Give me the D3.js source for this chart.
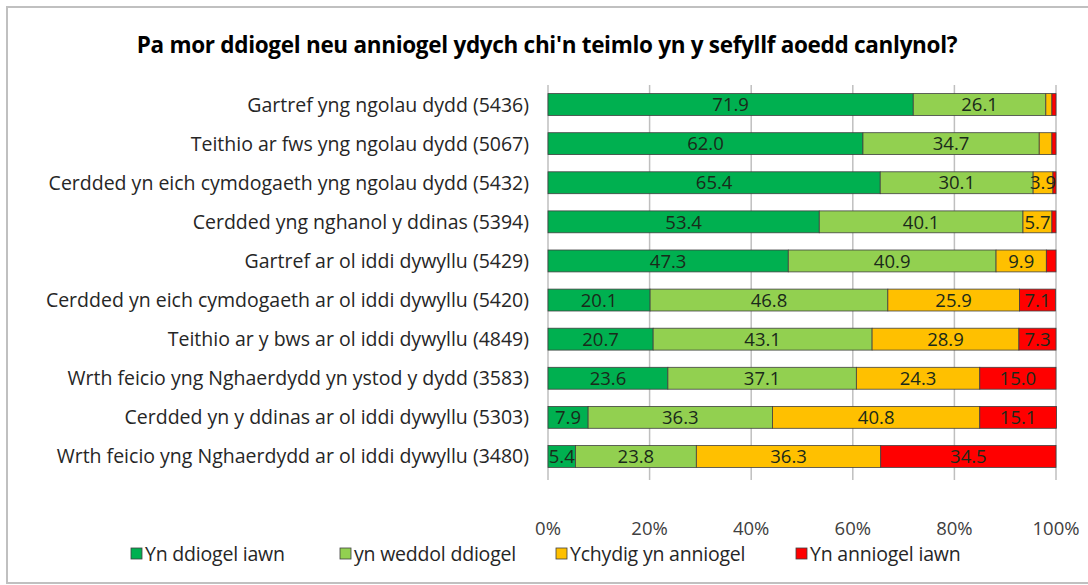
<!DOCTYPE html>
<html>
<head>
<meta charset="utf-8">
<script src="https://cdn.jsdelivr.net/npm/d3@7"></script>
<style>
  html, body { margin: 0; padding: 0; background: #fff; }
  svg { display: block; font-family: "Open Sans", "Noto Sans", sans-serif; }
</style>
</head>
<body>
<div id="chart"></div>
<script>
// data
const categories = [
  "Gartref yng ngolau dydd (5436)",
  "Teithio ar fws yng ngolau dydd (5067)",
  "Cerdded yn eich cymdogaeth yng ngolau dydd (5432)",
  "Cerdded yng nghanol y ddinas (5394)",
  "Gartref ar ol iddi dywyllu (5429)",
  "Cerdded yn eich cymdogaeth ar ol iddi dywyllu (5420)",
  "Teithio ar y bws ar ol iddi dywyllu (4849)",
  "Wrth feicio yng Nghaerdydd yn ystod y dydd (3583)",
  "Cerdded yn y ddinas ar ol iddi dywyllu (5303)",
  "Wrth feicio yng Nghaerdydd ar ol iddi dywyllu (3480)"
];
const veryS  = [71.9, 62.0, 65.4, 53.4, 47.3, 20.1, 20.7, 23.6, 7.9, 5.4];
const fairS  = [26.1, 34.7, 30.1, 40.1, 40.9, 46.8, 43.1, 37.1, 36.3, 23.8];
const bitU   = [1.2, 2.5, 3.9, 5.7, 9.9, 25.9, 28.9, 24.3, 40.8, 36.3];
const veryU  = [0.8, 0.8, 0.6, 0.8, 1.9, 7.1, 7.3, 15.0, 15.1, 34.5];
const seriesNames = ["Yn ddiogel iawn", "yn weddol ddiogel", "Ychydig yn anniogel", "Yn anniogel iawn"];
const seriesColors = ["#00b050", "#92d050", "#ffc000", "#ff0000"];
const tickValues = [0, 20, 40, 60, 80, 100];

const width = 1088, height = 585;
const svg = d3.select("#chart").append("svg")
  .attr("width", width).attr("height", height);

// chart frame
svg.append("rect")
  .attr("x", 7).attr("y", 7)
  .attr("width", width).attr("height", height - 9)
  .attr("fill", "#fff").attr("stroke", "#c0c0c0").attr("stroke-width", 2);

const x = d3.scaleLinear().domain([0, 100]).range([548, 1056]);
const y = d3.scaleBand().domain(categories).range([85, 476])
  .paddingInner(0.44).paddingOuter(0.22);

// title
svg.append("text")
  .attr("x", 547).attr("y", 53)
  .attr("text-anchor", "middle")
  .attr("font-size", 22.5).attr("font-weight", "bold")
  .attr("letter-spacing", -0.3)
  .attr("fill", "#000")
  .text("Pa mor ddiogel neu anniogel ydych chi'n teimlo yn y sefyllf aoedd canlynol?");

// gridlines + tick marks
svg.append("g").selectAll("line")
  .data(tickValues).join("line")
  .attr("x1", d => x(d)).attr("x2", d => x(d))
  .attr("y1", 85).attr("y2", 480)
  .attr("stroke", "#bfbfbf").attr("stroke-width", 1.5);

svg.append("g").selectAll("text")
  .data(tickValues).join("text")
  .attr("x", d => x(d)).attr("y", 535)
  .attr("text-anchor", "middle")
  .attr("font-size", 18.5).attr("fill", "#404040")
  .text(d => d + "%");

// stacked rows
const rows = categories.map((c, i) => ({ cat: c, vals: [veryS[i], fairS[i], bitU[i], veryU[i]] }));
const stack = d3.stack().keys([0, 1, 2, 3]).value((d, k) => d.vals[k]);
const layers = stack(rows);

const g = svg.append("g");
layers.forEach((layer, k) => {
  g.selectAll(null)
    .data(layer).join("rect")
    .attr("x", d => x(d[0]))
    .attr("y", d => y(d.data.cat))
    .attr("width", d => x(d[1]) - x(d[0]))
    .attr("height", y.bandwidth())
    .attr("fill", seriesColors[k])
    .attr("stroke", "#404040").attr("stroke-width", 0.8);
});

layers.forEach((layer, k) => {
  g.selectAll(null)
    .data(layer.filter(d => d.data.vals[k] >= 3)).join("text")
    .attr("x", d => (x(d[0]) + x(d[1])) / 2)
    .attr("y", d => y(d.data.cat) + y.bandwidth() / 2)
    .attr("dy", "0.36em")
    .attr("text-anchor", "middle")
    .attr("font-size", 18.5)
    .attr("fill", "#1a2a1a")
    .text(d => d.data.vals[k].toFixed(1));
});

// category labels
svg.append("g").selectAll("text")
  .data(categories).join("text")
  .attr("x", 529)
  .attr("y", d => y(d) + y.bandwidth() / 2)
  .attr("dy", "0.36em")
  .attr("text-anchor", "end")
  .attr("font-size", 19.5).attr("fill", "#262626")
  .text(d => d);

// legend
const legendX = [131, 340, 556, 796];
const lg = svg.append("g").selectAll("g")
  .data(seriesNames).join("g")
  .attr("transform", (d, i) => `translate(${legendX[i]},554)`);
lg.append("rect")
  .attr("x", 0).attr("y", -6).attr("width", 11).attr("height", 11)
  .attr("fill", (d, i) => seriesColors[i])
  .attr("stroke", "#404040").attr("stroke-width", 0.8);
lg.append("text")
  .attr("x", 14).attr("dy", "0.36em")
  .attr("font-size", 19.5).attr("letter-spacing", -0.2).attr("fill", "#262626")
  .text(d => d);
</script>
</body>
</html>
